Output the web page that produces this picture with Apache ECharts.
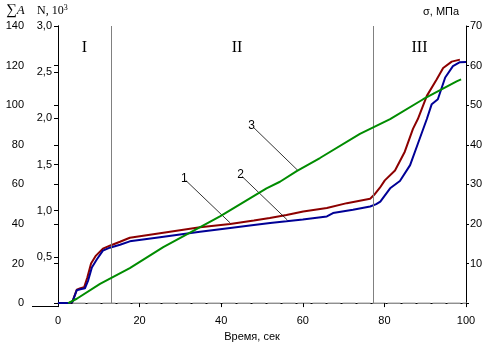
<!DOCTYPE html>
<html>
<head>
<meta charset="utf-8">
<script src="https://cdn.jsdelivr.net/npm/echarts@6/dist/echarts.min.js"></script>
<style>
  html, body { margin: 0; padding: 0; background: #fff; }
  #chart { width: 492px; height: 347px; }
</style>
</head>
<body>
<div id="chart"></div>
<script>
// Time, s and cumulative values for the three curves
const curve1 = [
  [0, 0], [2.5, 0], [3.5, 0.5], [4.6, 6.5], [5.5, 7], [6.6, 7.5], [7.4, 11.5], [8.3, 18],
  [9.5, 22], [11, 26.5], [12.7, 28], [15.2, 29.5], [17.6, 31.2], [25, 33.3], [34.8, 36],
  [42.2, 38], [48, 39.5], [52, 40.5], [56, 41.3], [60, 42.2], [65.9, 43.8], [67.4, 45.5],
  [72.3, 47.2], [76.5, 48.8], [78, 50], [79, 51.3], [81.4, 58], [83.8, 61.7], [86.3, 69.7],
  [88.2, 80.5], [90.4, 93], [91.6, 100.5], [93.1, 103], [94.9, 114], [96.8, 119.7],
  [98.5, 121.7], [100, 121.8]
];
const curve2 = [
  [0, 0], [2.5, 0], [3.5, 0.5], [4.6, 6.8], [5.5, 7.5], [6.4, 8], [7.2, 13], [8.1, 20],
  [9.3, 24], [11, 27.5], [12.7, 29], [15.2, 31], [17.6, 33], [25, 35.3], [34.8, 38.3],
  [42.2, 40], [48, 41.7], [51.9, 43], [56, 44.5], [60.1, 46.3], [65.9, 48], [70.8, 50.5],
  [76.5, 52.7], [77.5, 54.7], [78.9, 58.3], [80.1, 62], [82.6, 67], [85, 76.5], [87, 88],
  [88.2, 93], [90.4, 104.7], [92.8, 113], [94.4, 118.8], [96.5, 122], [98.5, 123]
];
const curve3 = [
  [2.5, 0], [4.6, 2.2], [10.3, 9.7], [17.6, 17.7], [25.8, 28.3], [39.7, 43.8], [51.1, 58],
  [54.4, 61.3], [58.5, 66.7], [64.2, 73.3], [74, 85.5], [81.4, 93], [89.5, 103],
  [97.7, 112], [98.8, 113]
];
// Stage boundaries (s) and stage names
const stageBounds = [13, 77.2];
const stages = [['I', 0, 13], ['II', 13, 77.2], ['III', 77.2, 100]];

const sansFont = '"Liberation Sans", Arial, sans-serif';
const serifFont = '"Liberation Serif", "Times New Roman", serif';
const axisLabelStyle = { color: '#000', fontSize: 11, fontFamily: sansFont };

const chart = echarts.init(document.getElementById('chart'), null, { renderer: 'canvas' });

const leaderStyle = { color: '#000', width: 0.8, type: 'solid' };
function leader(text, a, b) {
  return [
    { coord: a, label: { show: true, position: 'start', formatter: text, distance: 2,
      color: '#000', fontSize: 12, fontFamily: sansFont } },
    { coord: b }
  ];
}

chart.setOption({
  animation: false,
  backgroundColor: '#fff',
  grid: { left: 58, right: 26, top: 26, bottom: 41 },
  xAxis: [
    {
      type: 'value', min: 0, max: 100, interval: 20,
      name: 'Время, сек', nameLocation: 'middle', nameGap: 24,
      nameTextStyle: { color: '#000', fontSize: 11, fontFamily: sansFont, padding: [0, 20, 0, 0] },
      axisLine: { show: true, lineStyle: { color: '#000', width: 1 } },
      axisTick: { show: true, length: 4, lineStyle: { color: '#000' } },
      axisLabel: Object.assign({ margin: 12 }, axisLabelStyle),
      splitLine: { show: false }
    },
    {
      type: 'value', min: 0, max: 100, position: 'top',
      axisLine: { show: true, lineStyle: { color: '#c0c0c0', width: 1.5, type: [12, 3] } },
      axisTick: { show: false }, axisLabel: { show: false }, splitLine: { show: false }
    }
  ],
  yAxis: [
    {
      type: 'value', min: 0, max: 140, interval: 20, position: 'left', offset: 26,
      axisLine: { show: true, lineStyle: { color: '#000' } },
      axisTick: { show: true, length: 4, lineStyle: { color: '#000' } },
      axisLabel: Object.assign({ margin: 8 }, axisLabelStyle),
      splitLine: { show: false }
    },
    {
      type: 'value', min: 0, max: 3, interval: 0.5, position: 'left', offset: 0,
      axisLine: { show: true, lineStyle: { color: '#000' } },
      axisTick: { show: true, length: 4, lineStyle: { color: '#000' } },
      axisLabel: Object.assign({
        margin: 6,
        formatter: v => v === 0 ? '' : v.toFixed(1).replace('.', ',')
      }, axisLabelStyle),
      splitLine: { show: false }
    },
    {
      type: 'value', min: 0, max: 70, interval: 10, position: 'right',
      axisLine: { show: true, lineStyle: { color: '#000' } },
      axisTick: { show: true, length: 3, lineStyle: { color: '#000' } },
      axisLabel: Object.assign({
        margin: 4,
        formatter: v => v === 0 ? '' : String(v)
      }, axisLabelStyle),
      splitLine: { show: false }
    }
  ],
  series: [
    {
      name: '2', type: 'line', data: curve2, yAxisIndex: 0, showSymbol: false,
      lineStyle: { color: '#8c0000', width: 2 }, z: 3,
      markArea: {
        silent: true,
        itemStyle: { color: 'rgba(0,0,0,0)' },
        label: { show: true, position: 'insideTop', distance: 14, color: '#000',
          fontSize: 16, fontFamily: serifFont },
        data: stages.map(s => [
          { name: s[0], xAxis: s[1], label: { offset: s[0] === 'II' ? [-5, 0] : [0, 0] } },
          { xAxis: s[2] }
        ])
      }
    },
    {
      name: '1', type: 'line', data: curve1, yAxisIndex: 0, showSymbol: false,
      lineStyle: { color: '#000096', width: 2 }, z: 4,
      markLine: {
        silent: true, symbol: 'none', animation: false,
        lineStyle: { color: '#808080', width: 1, type: 'solid' },
        label: { show: false },
        data: stageBounds.map(x => ({ xAxis: x }))
      }
    },
    {
      name: '3', type: 'line', data: curve3, yAxisIndex: 0, showSymbol: false,
      lineStyle: { color: '#008c00', width: 2 }, z: 5,
      markLine: {
        silent: true, symbol: 'none', animation: false,
        lineStyle: leaderStyle,
        data: [
          leader('1', [31.3, 62], [42.2, 40.5]),
          leader('2', [45.1, 64], [56.2, 42]),
          leader('3', [47.8, 89], [58.8, 67])
        ]
      }
    }
  ],
  graphic: [
    // bottom axis line continued under the outer scale
    { type: 'line', shape: { x1: 32, y1: 306.5, x2: 58, y2: 306.5 },
      style: { stroke: '#000', lineWidth: 1 }, silent: true },
    { type: 'text', left: 6, top: 3,
      style: { text: '{s|∑}{a|A}', rich: {
        s: { fontSize: 15, fontFamily: serifFont, fill: '#000' },
        a: { fontSize: 13, fontStyle: 'italic', fontFamily: serifFont, fill: '#000' } } } },
    { type: 'text', left: 37, top: 4,
      style: { text: 'N, 10{p|3}', fontSize: 12, fontFamily: serifFont, fill: '#000',
        rich: { p: { fontSize: 8, fontFamily: serifFont, fill: '#000', verticalAlign: 'top', padding: [0, 0, 6, 0] } } } },
    { type: 'text', left: 423, top: 6,
      style: { text: 'σ, МПа', fontSize: 11, fontFamily: sansFont, fill: '#000' } }
  ]
});
</script>
</body>
</html>
